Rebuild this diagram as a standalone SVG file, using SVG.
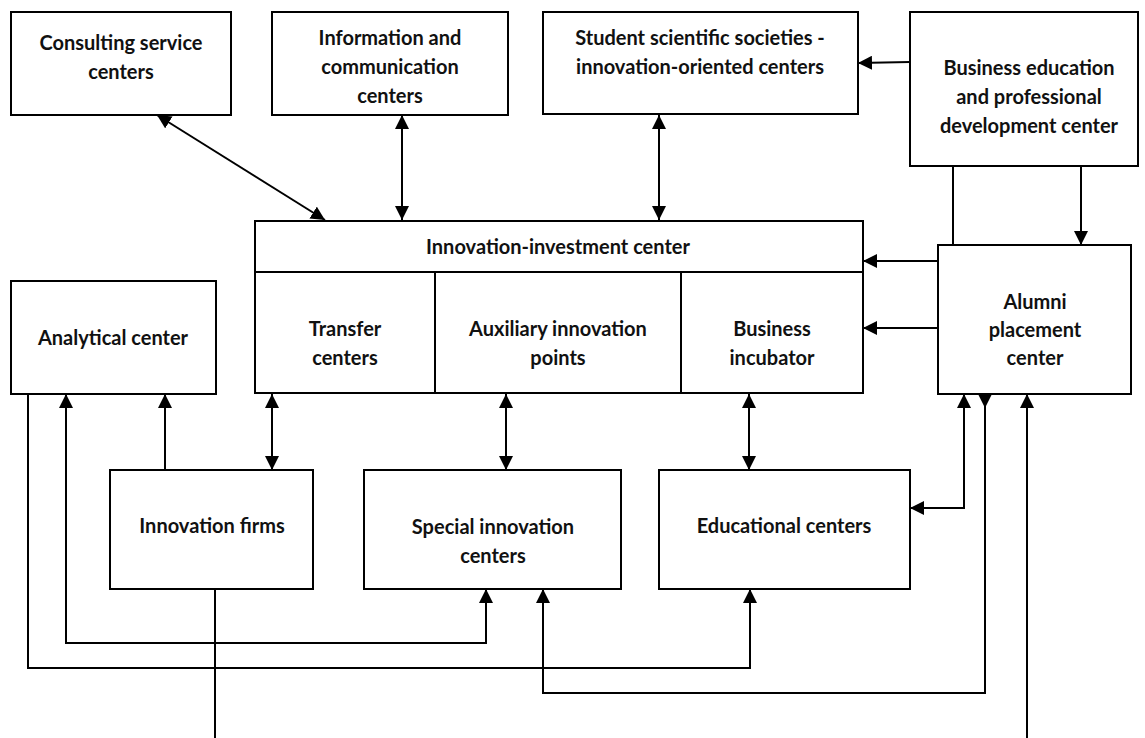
<svg xmlns="http://www.w3.org/2000/svg" width="1145" height="738" viewBox="0 0 1145 738">
<style>
.box{fill:#fff;stroke:#000;stroke-width:2}
.ln{fill:none;stroke:#000;stroke-width:2}
text{font-family:Lato,"Liberation Sans",Arial,sans-serif;font-weight:bold;font-size:20px;fill:#111;text-anchor:middle}
</style>
<defs>
<marker id="ah" viewBox="0 0 12 12" refX="12" refY="6" markerWidth="14" markerHeight="14" markerUnits="userSpaceOnUse" orient="auto-start-reverse">
<path d="M0,0 L12,6 L0,12 Z" fill="#000"/>
</marker>
</defs>
<rect width="1145" height="738" fill="#fff"/>
<g id="connectors">
<line class="ln" x1="157" y1="115" x2="325" y2="220" marker-start="url(#ah)" marker-end="url(#ah)"/>
<line class="ln" x1="402" y1="115" x2="402" y2="220" marker-start="url(#ah)" marker-end="url(#ah)"/>
<line class="ln" x1="659" y1="115" x2="659" y2="220" marker-start="url(#ah)" marker-end="url(#ah)"/>
<line class="ln" x1="910" y1="62" x2="858" y2="63" marker-end="url(#ah)"/>
<line class="ln" x1="1081" y1="166" x2="1081" y2="245" marker-end="url(#ah)"/>
<line class="ln" x1="953" y1="166" x2="953" y2="245"/>
<line class="ln" x1="938" y1="261" x2="863" y2="261" marker-end="url(#ah)"/>
<line class="ln" x1="938" y1="328" x2="863" y2="328" marker-end="url(#ah)"/>
<line class="ln" x1="272" y1="394" x2="272" y2="470" marker-start="url(#ah)" marker-end="url(#ah)"/>
<line class="ln" x1="506" y1="394" x2="506" y2="470" marker-start="url(#ah)" marker-end="url(#ah)"/>
<line class="ln" x1="749" y1="394" x2="749" y2="470" marker-start="url(#ah)" marker-end="url(#ah)"/>
<line class="ln" x1="165" y1="470" x2="165" y2="394" marker-end="url(#ah)"/>
<path class="ln" d="M486,589 V643 H66 V394" marker-start="url(#ah)" marker-end="url(#ah)"/>
<path class="ln" d="M28,394 V668 H750 V589" marker-end="url(#ah)"/>
<path class="ln" d="M910,508 H964 V394" marker-start="url(#ah)" marker-end="url(#ah)"/>
<path class="ln" d="M985,394 V693 H543 V589" marker-end="url(#ah)"/>
<polygon points="978,394 992,394 985,408" fill="#000"/>
<path class="ln" d="M215,589 V745 H1027 V394" marker-end="url(#ah)"/>
</g>
<g id="consulting">
<rect class="box" x="11" y="12" width="220" height="103"/>
<text x="121" y="50">Consulting service</text>
<text x="121" y="79">centers</text>
</g>
<g id="information">
<rect class="box" x="272" y="12" width="236" height="103"/>
<text x="390" y="45">Information and</text>
<text x="390" y="74">communication</text>
<text x="390" y="103">centers</text>
</g>
<g id="student">
<rect class="box" x="543" y="12" width="315" height="102"/>
<text x="700" y="45">Student scientific societies -</text>
<text x="700" y="74">innovation-oriented centers</text>
</g>
<g id="business-education">
<rect class="box" x="910" y="12" width="228" height="154"/>
<text x="1029" y="75">Business education</text>
<text x="1029" y="104">and professional</text>
<text x="1029" y="133">development center</text>
</g>
<g id="innovation-investment">
<rect class="box" x="255" y="221" width="608" height="172"/>
<line class="ln" x1="255" y1="272" x2="863" y2="272"/>
<text x="558" y="254">Innovation-investment center</text>
</g>
<g id="transfer">
<line class="ln" x1="435" y1="272" x2="435" y2="393"/>
<text x="345" y="336">Transfer</text>
<text x="345" y="365">centers</text>
</g>
<g id="auxiliary">
<text x="558" y="336">Auxiliary innovation</text>
<text x="558" y="365">points</text>
</g>
<g id="incubator">
<line class="ln" x1="681" y1="272" x2="681" y2="393"/>
<text x="772" y="336">Business</text>
<text x="772" y="365">incubator</text>
</g>
<g id="alumni">
<rect class="box" x="938" y="245" width="193" height="149"/>
<text x="1035" y="309">Alumni</text>
<text x="1035" y="337">placement</text>
<text x="1035" y="365">center</text>
</g>
<g id="analytical">
<rect class="box" x="11" y="281" width="205" height="113"/>
<text x="113" y="345">Analytical center</text>
</g>
<g id="innovation-firms">
<rect class="box" x="110" y="470" width="203" height="119"/>
<text x="212" y="533">Innovation firms</text>
</g>
<g id="special">
<rect class="box" x="364" y="470" width="257" height="119"/>
<text x="493" y="534">Special innovation</text>
<text x="493" y="563">centers</text>
</g>
<g id="educational">
<rect class="box" x="659" y="470" width="251" height="119"/>
<text x="784" y="533">Educational centers</text>
</g>
</svg>
